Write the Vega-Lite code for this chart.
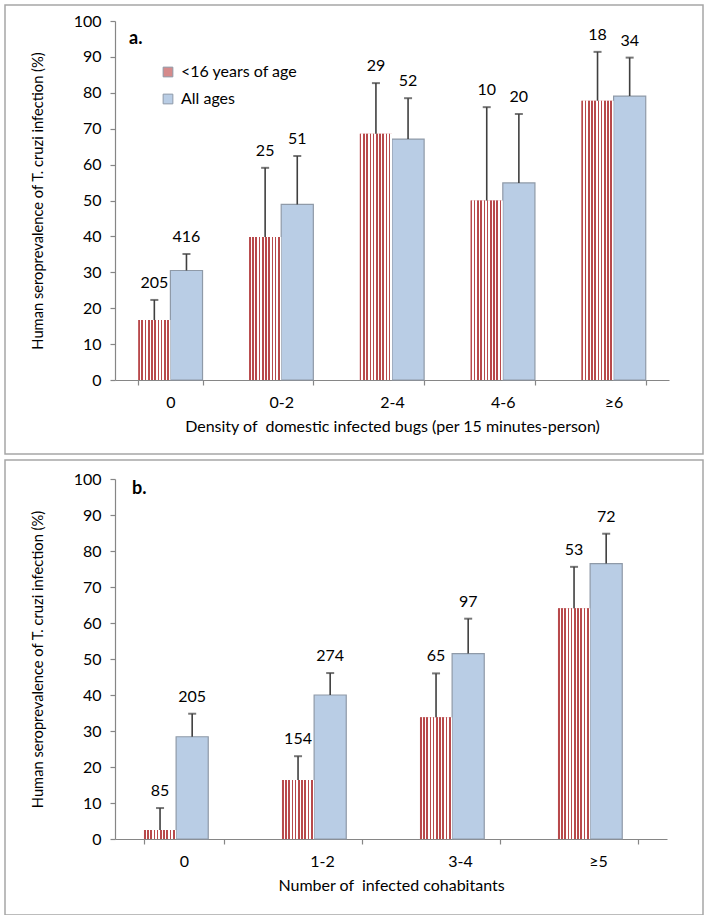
{
  "$schema": "https://vega.github.io/schema/vega-lite/v6.json",
  "description": "Human seroprevalence of T. cruzi infection by density of infected bugs (a) and number of infected cohabitants (b).",
  "background": "white",
  "padding": {"left": 4, "top": 4, "right": 0, "bottom": 0},
  "autosize": {"type": "pad"},
  "spacing": 4,
  "config": {
    "font": "Lato",
    "view": {"stroke": "#A6A6A6", "strokeWidth": 1.5},
    "axis": {
      "grid": false,
      "domainColor": "#868686",
      "domainWidth": 1.2,
      "tickColor": "#868686",
      "tickWidth": 1.2,
      "tickSize": 5,
      "labelFont": "Lato",
      "labelFontSize": 16,
      "labelColor": "#000000",
      "titleFont": "Lato",
      "titleFontSize": 16,
      "titleFontWeight": "normal",
      "titleColor": "#000000"
    },
    "axisY": {"titleFontSize": 14.7},
    "legend": {
      "labelFont": "Lato",
      "labelFontSize": 16,
      "labelColor": "#000000",
      "symbolType": "square",
      "symbolSize": 95,
      "symbolStrokeColor": "#8F9AA8",
      "symbolStrokeWidth": 1,
      "labelOffset": 5,
      "padding": 0
    }
  },
  "datasets": {
    "bugs": [
      {"cat": "0", "group": "<16 years of age", "pct": 16.7, "upper": 22.3, "n": 205},
      {"cat": "0", "group": "All ages", "pct": 30.5, "upper": 35.1, "n": 416},
      {"cat": "0-2", "group": "<16 years of age", "pct": 39.8, "upper": 59.1, "n": 25},
      {"cat": "0-2", "group": "All ages", "pct": 48.9, "upper": 62.4, "n": 51},
      {"cat": "2-4", "group": "<16 years of age", "pct": 68.6, "upper": 82.7, "n": 29},
      {"cat": "2-4", "group": "All ages", "pct": 67.1, "upper": 78.5, "n": 52},
      {"cat": "4-6", "group": "<16 years of age", "pct": 50.0, "upper": 76.0, "n": 10},
      {"cat": "4-6", "group": "All ages", "pct": 54.9, "upper": 74.1, "n": 20},
      {"cat": "≥6", "group": "<16 years of age", "pct": 77.8, "upper": 91.4, "n": 18},
      {"cat": "≥6", "group": "All ages", "pct": 79.1, "upper": 89.8, "n": 34}
    ],
    "cohabitants": [
      {"cat": "0", "group": "<16 years of age", "pct": 2.5, "upper": 8.6, "n": 85},
      {"cat": "0", "group": "All ages", "pct": 28.4, "upper": 34.8, "n": 205},
      {"cat": "1-2", "group": "<16 years of age", "pct": 16.4, "upper": 23.0, "n": 154},
      {"cat": "1-2", "group": "All ages", "pct": 40.0, "upper": 46.1, "n": 274},
      {"cat": "3-4", "group": "<16 years of age", "pct": 33.8, "upper": 46.0, "n": 65},
      {"cat": "3-4", "group": "All ages", "pct": 51.5, "upper": 61.2, "n": 97},
      {"cat": "≥5", "group": "<16 years of age", "pct": 64.1, "upper": 75.6, "n": 53},
      {"cat": "≥5", "group": "All ages", "pct": 76.5, "upper": 84.8, "n": 72}
    ]
  },
  "vconcat": [
    {
      "width": 698,
      "height": 449,
      "data": {"name": "bugs"},
      "title": {"text": "a.", "anchor": "start", "frame": "group", "dx": 124, "dy": 57, "offset": 0, "baseline": "alphabetic", "font": "Lato", "fontSize": 18, "fontWeight": "bold", "color": "#000000"},
      "encoding": {
        "x": {
          "field": "cat",
          "type": "nominal",
          "sort": ["0", "0-2", "2-4", "4-6", "≥6"],
          "scale": {"range": [110, 664], "paddingInner": 0.42, "paddingOuter": 0.21},
          "axis": {"title": "Density of \u00a0domestic infected bugs (per 15 minutes-person)", "offset": -74, "labelAngle": 0, "tickBand": "extent", "labelPadding": 9, "titlePadding": 8}
        },
        "xOffset": {"field": "group", "type": "nominal", "scale": {"domain": ["<16 years of age", "All ages"], "paddingInner": 0, "paddingOuter": 0}},
        "y": {
          "field": "pct",
          "type": "quantitative",
          "scale": {"domain": [0, 100], "range": [375, 16], "nice": false},
          "axis": {"title": "Human seroprevalence of T. cruzi infection (%)", "offset": -110, "values": [0, 10, 20, 30, 40, 50, 60, 70, 80, 90, 100], "labelPadding": 9, "titlePadding": 28}
        }
      },
      "layer": [
        {
          "mark": {"type": "bar", "strokeWidth": 1.2},
          "encoding": {
            "fill": {
              "field": "group",
              "type": "nominal",
              "scale": {"domain": ["<16 years of age", "All ages"], "range": ["#D58A8B", "#B9CDE5"]},
              "legend": {"title": null, "orient": "none", "legendX": 155, "legendY": 59, "rowPadding": 11}
            },
            "stroke": {"condition": {"test": "datum.group === 'All ages'", "value": "#8F9AA8"}, "value": "transparent"}
          }
        },
        {
          "transform": [{"filter": "datum.group === '<16 years of age'"}],
          "mark": {
            "type": "bar",
            "fill": {
              "gradient": "linear", "x1": 0, "y1": 0, "x2": 1, "y2": 0,
              "stops": [
                {"offset": 0, "color": "#B8494B"}, {"offset": 0.05, "color": "#B8494B"}, {"offset": 0.05, "color": "#FFFFFF"}, {"offset": 0.1, "color": "#FFFFFF"},
                {"offset": 0.1, "color": "#B8494B"}, {"offset": 0.15, "color": "#B8494B"}, {"offset": 0.15, "color": "#FFFFFF"}, {"offset": 0.2, "color": "#FFFFFF"},
                {"offset": 0.2, "color": "#B8494B"}, {"offset": 0.25, "color": "#B8494B"}, {"offset": 0.25, "color": "#FFFFFF"}, {"offset": 0.3, "color": "#FFFFFF"},
                {"offset": 0.3, "color": "#B8494B"}, {"offset": 0.35, "color": "#B8494B"}, {"offset": 0.35, "color": "#FFFFFF"}, {"offset": 0.4, "color": "#FFFFFF"},
                {"offset": 0.4, "color": "#B8494B"}, {"offset": 0.45, "color": "#B8494B"}, {"offset": 0.45, "color": "#FFFFFF"}, {"offset": 0.5, "color": "#FFFFFF"},
                {"offset": 0.5, "color": "#B8494B"}, {"offset": 0.55, "color": "#B8494B"}, {"offset": 0.55, "color": "#FFFFFF"}, {"offset": 0.6, "color": "#FFFFFF"},
                {"offset": 0.6, "color": "#B8494B"}, {"offset": 0.65, "color": "#B8494B"}, {"offset": 0.65, "color": "#FFFFFF"}, {"offset": 0.7, "color": "#FFFFFF"},
                {"offset": 0.7, "color": "#B8494B"}, {"offset": 0.75, "color": "#B8494B"}, {"offset": 0.75, "color": "#FFFFFF"}, {"offset": 0.8, "color": "#FFFFFF"},
                {"offset": 0.8, "color": "#B8494B"}, {"offset": 0.85, "color": "#B8494B"}, {"offset": 0.85, "color": "#FFFFFF"}, {"offset": 0.9, "color": "#FFFFFF"},
                {"offset": 0.9, "color": "#B8494B"}, {"offset": 0.95, "color": "#B8494B"}, {"offset": 0.95, "color": "#FFFFFF"}, {"offset": 1, "color": "#FFFFFF"}
              ]
            }
          },
          "encoding": {}
        },
        {
          "mark": {"type": "rule", "color": "#3F3F3F", "strokeWidth": 1.6},
          "encoding": {"y2": {"field": "upper"}}
        },
        {
          "mark": {"type": "tick", "color": "#3F3F3F", "size": 8, "thickness": 2},
          "encoding": {"y": {"field": "upper", "type": "quantitative"}}
        },
        {
          "mark": {"type": "text", "font": "Lato", "fontSize": 16, "color": "#000000", "baseline": "alphabetic", "dy": -12},
          "encoding": {"y": {"field": "upper", "type": "quantitative"}, "text": {"field": "n", "type": "quantitative"}}
        }
      ]
    },
    {
      "width": 698,
      "height": 455,
      "data": {"name": "cohabitants"},
      "title": {"text": "b.", "anchor": "start", "frame": "group", "dx": 127, "dy": 52, "offset": 0, "baseline": "alphabetic", "font": "Lato", "fontSize": 18, "fontWeight": "bold", "color": "#000000"},
      "encoding": {
        "x": {
          "field": "cat",
          "type": "nominal",
          "sort": ["0", "1-2", "3-4", "≥5"],
          "scale": {"range": [110, 662], "paddingInner": 0.42, "paddingOuter": 0.21},
          "axis": {"title": "Number of \u00a0infected cohabitants", "offset": -76, "labelAngle": 0, "tickBand": "extent", "labelPadding": 9, "titlePadding": 8}
        },
        "xOffset": {"field": "group", "type": "nominal", "scale": {"domain": ["<16 years of age", "All ages"], "paddingInner": 0, "paddingOuter": 0}},
        "y": {
          "field": "pct",
          "type": "quantitative",
          "scale": {"domain": [0, 100], "range": [379, 19], "nice": false},
          "axis": {"title": "Human seroprevalence of T. cruzi infection (%)", "offset": -110, "values": [0, 10, 20, 30, 40, 50, 60, 70, 80, 90, 100], "labelPadding": 9, "titlePadding": 28}
        }
      },
      "layer": [
        {
          "mark": {"type": "bar", "strokeWidth": 1.2},
          "encoding": {
            "fill": {
              "field": "group",
              "type": "nominal",
              "scale": {"domain": ["<16 years of age", "All ages"], "range": ["#D58A8B", "#B9CDE5"]},
              "legend": {"title": null, "orient": "none", "legendX": 150, "legendY": 63, "rowPadding": 20}
            },
            "stroke": {"condition": {"test": "datum.group === 'All ages'", "value": "#8F9AA8"}, "value": "transparent"}
          }
        },
        {
          "transform": [{"filter": "datum.group === '<16 years of age'"}],
          "mark": {
            "type": "bar",
            "fill": {
              "gradient": "linear", "x1": 0, "y1": 0, "x2": 1, "y2": 0,
              "stops": [
                {"offset": 0, "color": "#B8494B"}, {"offset": 0.05, "color": "#B8494B"}, {"offset": 0.05, "color": "#FFFFFF"}, {"offset": 0.1, "color": "#FFFFFF"},
                {"offset": 0.1, "color": "#B8494B"}, {"offset": 0.15, "color": "#B8494B"}, {"offset": 0.15, "color": "#FFFFFF"}, {"offset": 0.2, "color": "#FFFFFF"},
                {"offset": 0.2, "color": "#B8494B"}, {"offset": 0.25, "color": "#B8494B"}, {"offset": 0.25, "color": "#FFFFFF"}, {"offset": 0.3, "color": "#FFFFFF"},
                {"offset": 0.3, "color": "#B8494B"}, {"offset": 0.35, "color": "#B8494B"}, {"offset": 0.35, "color": "#FFFFFF"}, {"offset": 0.4, "color": "#FFFFFF"},
                {"offset": 0.4, "color": "#B8494B"}, {"offset": 0.45, "color": "#B8494B"}, {"offset": 0.45, "color": "#FFFFFF"}, {"offset": 0.5, "color": "#FFFFFF"},
                {"offset": 0.5, "color": "#B8494B"}, {"offset": 0.55, "color": "#B8494B"}, {"offset": 0.55, "color": "#FFFFFF"}, {"offset": 0.6, "color": "#FFFFFF"},
                {"offset": 0.6, "color": "#B8494B"}, {"offset": 0.65, "color": "#B8494B"}, {"offset": 0.65, "color": "#FFFFFF"}, {"offset": 0.7, "color": "#FFFFFF"},
                {"offset": 0.7, "color": "#B8494B"}, {"offset": 0.75, "color": "#B8494B"}, {"offset": 0.75, "color": "#FFFFFF"}, {"offset": 0.8, "color": "#FFFFFF"},
                {"offset": 0.8, "color": "#B8494B"}, {"offset": 0.85, "color": "#B8494B"}, {"offset": 0.85, "color": "#FFFFFF"}, {"offset": 0.9, "color": "#FFFFFF"},
                {"offset": 0.9, "color": "#B8494B"}, {"offset": 0.95, "color": "#B8494B"}, {"offset": 0.95, "color": "#FFFFFF"}, {"offset": 1, "color": "#FFFFFF"}
              ]
            }
          },
          "encoding": {}
        },
        {
          "mark": {"type": "rule", "color": "#3F3F3F", "strokeWidth": 1.6},
          "encoding": {"y2": {"field": "upper"}}
        },
        {
          "mark": {"type": "tick", "color": "#3F3F3F", "size": 8, "thickness": 2},
          "encoding": {"y": {"field": "upper", "type": "quantitative"}}
        },
        {
          "mark": {"type": "text", "font": "Lato", "fontSize": 16, "color": "#000000", "baseline": "alphabetic", "dy": -12},
          "encoding": {"y": {"field": "upper", "type": "quantitative"}, "text": {"field": "n", "type": "quantitative"}}
        }
      ]
    }
  ]
}
